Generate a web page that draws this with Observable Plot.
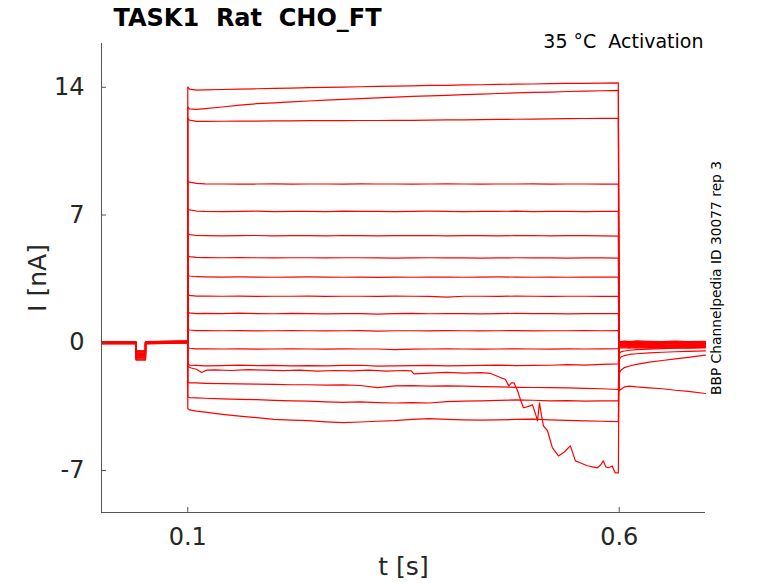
<!DOCTYPE html>
<html>
<head>
<meta charset="utf-8">
<script src="https://cdn.jsdelivr.net/npm/d3@7"></script>
<script src="https://cdn.jsdelivr.net/npm/@observablehq/plot@0.6"></script>
<style>
  html, body { margin: 0; padding: 0; background: #fff; }
  svg text { white-space: pre; }
</style>
</head>
<body>
<div id="chart"></div>
<script>
// ---- axes ----
const xDomain = [0, 0.7];
const yDomain = [-9.3, 16.4];
const xTicks = [0.1, 0.6];
const yTicks = [-7, 0, 7, 14];

const titleText = "TASK1  Rat  CHO_FT";
const conditionText = "35 °C  Activation";
const sideText = "BBP Channelpedia ID 30077 rep 3";
const xLabel = "t [s]";
const yLabel = "I [nA]";

// ---- holding period (before the step) ----
const dipTimes = [0.04, 0.051];
const stepStart = 0.1;
const holdStart = [0.02, 0.0, -0.03, 0.04, 0.01, -0.05, 0.03, -0.02, 0.05, 0.0, -0.04, 0.02, 0.06, -0.01, 0.03, -0.06, 0.01];
const holdEnd   = [0.08, 0.05, 0.02, 0.09, 0.06, 0.0, 0.07, 0.03, 0.1, 0.04, 0.01, 0.06, 0.11, 0.03, 0.08, -0.01, 0.05];
const dipLevel  = [-0.95, -0.9, -0.88, -0.8, -0.78, -0.77, -0.7, -0.65, -0.62, -0.6, -0.58, -0.55, -0.5, -0.48, -0.46, -0.45, -0.44];

// ---- test step (0.1 s to 0.6 s) ----
const stepTimes = [0.1, 0.102, 0.11, 0.12, 0.14, 0.16, 0.18, 0.20, 0.22, 0.24, 0.26, 0.28, 0.30, 0.32, 0.34, 0.36, 0.38, 0.40, 0.42, 0.44, 0.46, 0.48, 0.50, 0.52, 0.54, 0.56, 0.58, 0.599];
const stepCurrents = [
  [14.02, 13.9, 13.85, 13.86, 13.88, 13.9, 13.92, 13.94, 13.96, 13.98, 14.0, 14.01, 14.03, 14.05, 14.06, 14.08, 14.1, 14.11, 14.13, 14.14, 14.16, 14.17, 14.18, 14.2, 14.21, 14.22, 14.23, 14.24],
  [12.92, 12.82, 12.79, 12.83, 12.92, 13.02, 13.1, 13.15, 13.2, 13.25, 13.3, 13.34, 13.38, 13.42, 13.46, 13.5, 13.53, 13.56, 13.6, 13.63, 13.66, 13.69, 13.72, 13.74, 13.77, 13.79, 13.81, 13.83],
  [12.3, 12.2, 12.13, 12.13, 12.14, 12.15, 12.15, 12.16, 12.16, 12.17, 12.17, 12.17, 12.18, 12.18, 12.19, 12.19, 12.2, 12.21, 12.22, 12.23, 12.24, 12.25, 12.26, 12.27, 12.28, 12.29, 12.3, 12.3],
  [8.85, 8.8, 8.74, 8.71, 8.7, 8.69, 8.7, 8.71, 8.69, 8.7, 8.7, 8.69, 8.71, 8.7, 8.7, 8.69, 8.7, 8.71, 8.7, 8.69, 8.7, 8.7, 8.71, 8.69, 8.7, 8.7, 8.69, 8.7],
  [7.32, 7.28, 7.22, 7.2, 7.19, 7.2, 7.21, 7.19, 7.2, 7.2, 7.19, 7.21, 7.2, 7.2, 7.19, 7.2, 7.21, 7.2, 7.19, 7.2, 7.2, 7.21, 7.19, 7.2, 7.2, 7.19, 7.2, 7.2],
  [5.97, 5.93, 5.88, 5.87, 5.86, 5.87, 5.88, 5.86, 5.87, 5.87, 5.86, 5.88, 5.87, 5.86, 5.87, 5.87, 5.88, 5.86, 5.87, 5.87, 5.86, 5.87, 5.88, 5.86, 5.87, 5.87, 5.86, 5.85],
  [4.76, 4.72, 4.68, 4.67, 4.66, 4.67, 4.66, 4.65, 4.66, 4.66, 4.65, 4.66, 4.66, 4.65, 4.64, 4.65, 4.66, 4.65, 4.65, 4.64, 4.65, 4.66, 4.65, 4.65, 4.64, 4.65, 4.65, 4.64],
  [3.7, 3.66, 3.62, 3.61, 3.6, 3.61, 3.6, 3.59, 3.6, 3.61, 3.6, 3.59, 3.6, 3.58, 3.6, 3.59, 3.6, 3.6, 3.59, 3.6, 3.61, 3.6, 3.59, 3.6, 3.59, 3.6, 3.6, 3.6],
  [2.64, 2.6, 2.56, 2.56, 2.55, 2.56, 2.54, 2.55, 2.55, 2.56, 2.54, 2.55, 2.55, 2.54, 2.56, 2.55, 2.54, 2.5, 2.55, 2.55, 2.54, 2.56, 2.55, 2.54, 2.55, 2.55, 2.54, 2.55],
  [1.68, 1.64, 1.6, 1.61, 1.6, 1.62, 1.6, 1.59, 1.61, 1.6, 1.58, 1.6, 1.6, 1.57, 1.6, 1.61, 1.59, 1.6, 1.6, 1.58, 1.6, 1.61, 1.6, 1.6, 1.58, 1.6, 1.6, 1.6],
  [0.74, 0.7, 0.67, 0.67, 0.66, 0.67, 0.65, 0.66, 0.67, 0.66, 0.65, 0.66, 0.67, 0.64, 0.66, 0.66, 0.65, 0.67, 0.66, 0.65, 0.66, 0.67, 0.65, 0.66, 0.66, 0.67, 0.66, 0.67],
  [-0.25, -0.3, -0.33, -0.33, -0.34, -0.33, -0.35, -0.34, -0.33, -0.34, -0.35, -0.33, -0.34, -0.34, -0.37, -0.35, -0.34, -0.33, -0.34, -0.35, -0.34, -0.33, -0.34, -0.35, -0.33, -0.34, -0.33, -0.32],
  [-1.15, -1.22, -1.24, -1.26, -1.25, -1.22, -1.25, -1.24, -1.26, -1.25, -1.27, -1.24, -1.23, -1.28, -1.26, -1.25, -1.24, -1.26, -1.25, -1.24, -1.22, -1.25, -1.24, -1.23, -1.2, -1.22, -1.18, -1.16],
  [-2.15, -2.2, -2.2, -2.22, -2.24, -2.25, -2.27, -2.28, -2.3, -2.3, -2.32, -2.31, -2.34, -2.46, -2.36, -2.35, -2.37, -2.36, -2.38, -2.4, -2.42, -2.44, -2.45, -2.46, -2.47, -2.5, -2.52, -2.56],
  [-2.98, -3.0, -3.02, -3.04, -3.07, -3.1, -3.12, -3.16, -3.18, -3.2, -3.24, -3.26, -3.24, -3.28, -3.3, -3.28, -3.3, -3.22, -3.2, -3.18, -3.16, -3.13, -3.15, -3.18, -3.17, -3.2, -3.18, -3.18],
  [-3.62, -3.68, -3.74, -3.8, -3.92, -4.02, -4.1, -4.2, -4.24, -4.27, -4.33, -4.37, -4.34, -4.3, -4.27, -4.2, -4.16, -4.2, -4.22, -4.24, -4.22, -4.2, -4.18, -4.22, -4.25, -4.28, -4.3, -4.32]
];

// the sweep that runs down towards the end of the step
const driftTimes = [0.1, 0.104, 0.11, 0.116, 0.122, 0.131, 0.15, 0.17, 0.19, 0.21, 0.23, 0.25, 0.27, 0.29, 0.31, 0.33, 0.35, 0.359, 0.362, 0.38, 0.40, 0.42, 0.44, 0.451, 0.463, 0.468, 0.472, 0.475, 0.478, 0.482, 0.486, 0.489, 0.494, 0.4995, 0.503, 0.5053, 0.5076, 0.510, 0.5122, 0.5169, 0.5226, 0.5296, 0.536, 0.5434, 0.5492, 0.556, 0.563, 0.569, 0.5746, 0.5785, 0.5815, 0.5845, 0.5873, 0.5919, 0.5954, 0.599];
const driftCurrents = [-1.3, -1.38, -1.45, -1.63, -1.5, -1.48, -1.52, -1.47, -1.5, -1.53, -1.5, -1.55, -1.52, -1.54, -1.5, -1.55, -1.52, -1.54, -1.7, -1.66, -1.62, -1.66, -1.64, -1.68, -1.92, -2.0, -2.36, -2.2, -2.19, -2.6, -3.18, -3.56, -3.5, -3.4, -3.9, -4.28, -3.29, -4.0, -4.55, -4.82, -5.76, -6.2, -6.0, -5.65, -6.47, -6.6, -6.74, -6.8, -6.85, -6.7, -6.47, -6.8, -6.85, -6.75, -7.13, -7.13];

// ---- tail after the step ----
const tailTimes = [0.6, 0.602, 0.606, 0.612, 0.62, 0.635, 0.65, 0.665, 0.68, 0.7];
const tailCurrents = [
  [-2.63, -2.55, -2.42, -2.38, -2.42, -2.47, -2.52, -2.6, -2.66, -2.78],
  [-1.7, -1.5, -1.36, -1.27, -1.18, -1.06, -0.97, -0.88, -0.8, -0.68],
  [-0.9, -0.78, -0.7, -0.64, -0.6, -0.55, -0.52, -0.49, -0.47, -0.44],
  [-0.6, -0.5, -0.45, -0.41, -0.38, -0.35, -0.32, -0.3, -0.28, -0.26],
  [-0.2, -0.24, -0.22, -0.25, -0.23, -0.26, -0.24, -0.25, -0.23, -0.25],
  [-0.15, -0.18, -0.2, -0.17, -0.19, -0.21, -0.18, -0.2, -0.22, -0.19],
  [-0.1, -0.14, -0.12, -0.16, -0.13, -0.15, -0.17, -0.14, -0.16, -0.15],
  [-0.08, -0.1, -0.13, -0.1, -0.12, -0.09, -0.11, -0.13, -0.1, -0.12],
  [-0.05, -0.08, -0.06, -0.09, -0.07, -0.1, -0.08, -0.06, -0.09, -0.07],
  [-0.02, -0.05, -0.03, -0.06, -0.04, -0.02, -0.05, -0.03, -0.06, -0.04],
  [0.0, -0.02, 0.01, -0.03, 0.0, -0.02, 0.01, -0.01, -0.03, 0.0],
  [0.03, 0.0, 0.02, 0.04, 0.01, 0.03, 0.0, 0.02, 0.04, 0.01],
  [0.05, 0.03, 0.06, 0.04, 0.07, 0.05, 0.03, 0.06, 0.04, 0.05],
  [-0.12, -0.15, -0.18, -0.2, -0.17, -0.19, -0.16, -0.18, -0.2, -0.21],
  [-0.3, -0.27, -0.28, -0.3, -0.27, -0.29, -0.28, -0.26, -0.29, -0.27],
  [0.08, 0.06, 0.09, 0.07, 0.1, 0.08, 0.06, 0.09, 0.07, 0.08],
  [-0.04, -0.07, -0.05, -0.08, -0.06, -0.04, -0.07, -0.05, -0.08, -0.06]
];

// ---- build rows (one line per sweep) ----
const rows = [];
function addSweep(k, times, currents) {
  rows.push({sweep: k, t: xDomain[0], I: holdStart[k]});
  rows.push({sweep: k, t: dipTimes[0], I: holdStart[k]});
  rows.push({sweep: k, t: dipTimes[0], I: dipLevel[k]});
  rows.push({sweep: k, t: dipTimes[1], I: dipLevel[k]});
  rows.push({sweep: k, t: dipTimes[1], I: holdStart[k]});
  rows.push({sweep: k, t: stepStart, I: holdEnd[k]});
  times.forEach((t, i) => rows.push({sweep: k, t, I: currents[i]}));
  tailTimes.forEach((t, i) => rows.push({sweep: k, t, I: tailCurrents[k][i]}));
}
stepCurrents.forEach((c, k) => addSweep(k, stepTimes, c));
addSweep(stepCurrents.length, driftTimes, driftCurrents);

const axisColor = "#555555";
const textColor = "#262626";
const font = "DejaVu Sans, Verdana, sans-serif";

const chart = Plot.plot({
  width: 778,
  height: 583,
  marginLeft: 101,
  marginRight: 73,
  marginTop: 43,
  marginBottom: 71,
  x: {domain: xDomain},
  y: {domain: yDomain},
  style: {fontFamily: font, background: "#fff", color: textColor},
  marks: [
    Plot.ruleX([xDomain[0]], {stroke: axisColor, strokeWidth: 1}),
    Plot.ruleY([yDomain[0]], {stroke: axisColor, strokeWidth: 1}),
    Plot.line(rows, {x: "t", y: "I", z: "sweep", stroke: "#ff0000", strokeWidth: 1.2, curve: "linear"}),
    Plot.axisX(xTicks, {anchor: "bottom", tickSize: -5, tickPadding: 20, fontSize: 24, stroke: axisColor, fill: textColor, tickFormat: d => String(d), label: null}),
    Plot.axisY(yTicks, {anchor: "left", tickSize: -5, tickPadding: 22, fontSize: 24, stroke: axisColor, fill: textColor, tickFormat: d => String(d), label: null}),
    Plot.text([titleText], {text: d => d, frameAnchor: "top-left", dx: 12, dy: -25, textAnchor: "start", lineAnchor: "middle", fontSize: 24, fontWeight: "bold", fill: "#000"}),
    Plot.text([conditionText], {text: d => d, frameAnchor: "top-right", dx: -2, dy: -2, textAnchor: "end", lineAnchor: "middle", fontSize: 19, fill: "#000"}),
    Plot.text([sideText], {text: d => d, frameAnchor: "right", dx: 11, rotate: -90, textAnchor: "middle", lineAnchor: "middle", fontSize: 13.8, fill: "#000"}),
    Plot.text([xLabel], {text: d => d, frameAnchor: "bottom", dy: 54, textAnchor: "middle", lineAnchor: "middle", fontSize: 25, fill: textColor}),
    Plot.text([yLabel], {text: d => d, frameAnchor: "left", dx: -64, rotate: -90, textAnchor: "middle", lineAnchor: "middle", fontSize: 25, fill: textColor})
  ]
});
document.getElementById("chart").appendChild(chart);
</script>
</body>
</html>
